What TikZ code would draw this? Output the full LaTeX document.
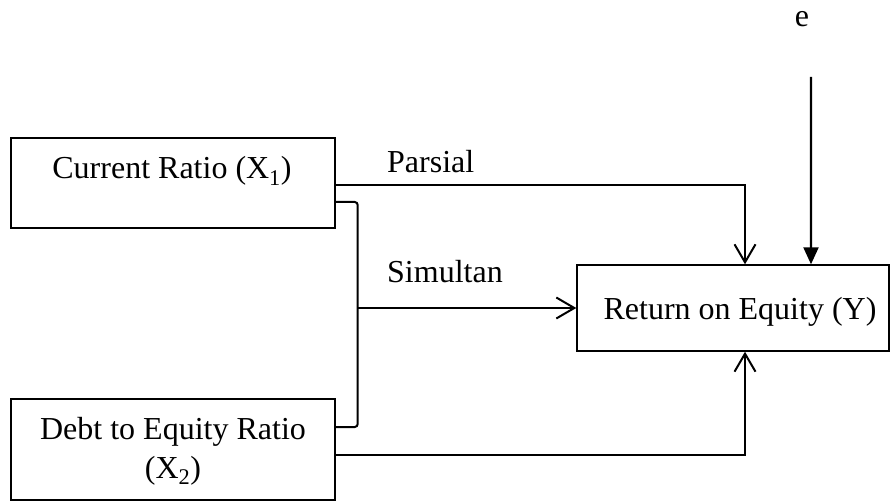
\documentclass[tikz,border=0pt]{standalone}
\usepackage{fontspec}
\setmainfont{Liberation Serif}
\usetikzlibrary{arrows.meta}
\begin{document}
\begin{tikzpicture}[x=1bp,y=-1bp,
  box/.style={draw=black,line width=1.4bp,inner sep=0pt,rectangle},
  txt/.style={inner sep=0pt,font=\fontsize{32bp}{39bp}\selectfont},
  conn/.style={line width=2bp,draw=black},
  openhead/.style={-{Straight Barb[length=18bp,width=21bp,line width=2bp]}},
  solidhead/.style={-{Triangle[length=17bp,width=15bp]}}]
\useasboundingbox (0,0) rectangle (891,503);

% boxes
\node[box,minimum width=324bp,minimum height=90bp] (X1) at (173,183) {};
\node[box,minimum width=324bp,minimum height=101bp] (X2) at (173,449.5) {};
\node[box,minimum width=312bp,minimum height=86bp] (Y) at (733,308) {};

% box texts
\node[txt,anchor=base] (tX1) at (172,179) {Current Ratio (X\textsubscript{1})};
\node[txt,anchor=base,align=center] (tX2) at (173,478) {Debt to Equity Ratio\\(X\textsubscript{2})};
\node[txt,anchor=base] (tY) at (740,320) {Return on Equity (Y)};

% edge labels
\node[txt,anchor=base west] (lp) at (387,173) {Parsial};
\node[txt,anchor=base west] (ls) at (387,283) {Simultan};
\node[txt,anchor=base] (e) at (802,27) {e};

% partial paths
\draw[conn,line width=1.8bp,openhead] ([yshift=-2bp]X1.east) -| ([xshift=12bp]Y.north);
\draw[conn,line width=1.8bp,openhead] ([yshift=-5.5bp]X2.east) -| ([xshift=12bp]Y.south);

% simultaneous bracket
\coordinate (b1) at ([yshift=-19bp]X1.east);
\coordinate (b2) at ([yshift=22.5bp]X2.east);
\coordinate (bm) at (357,308);
\draw[conn,rounded corners=3bp] (b1) -- ++(22,0) |- (b2);
\draw[conn,line width=2.2bp,openhead] (bm) -- (bm -| Y.west);

% residual
\coordinate (etop) at (811,77);
\draw[conn,line width=2.2bp,solidhead] (etop) -- ([xshift=78bp]Y.north);
\end{tikzpicture}
\end{document}
